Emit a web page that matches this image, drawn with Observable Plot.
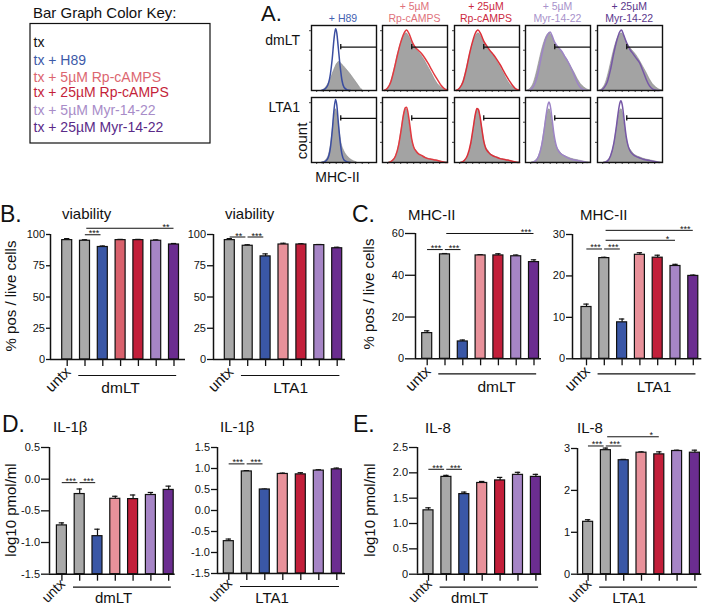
<!DOCTYPE html>
<html>
<head>
<meta charset="utf-8">
<script src="https://cdn.jsdelivr.net/npm/d3@7"></script>
<script src="https://cdn.jsdelivr.net/npm/@observablehq/plot@0.6"></script>
<style>
  html, body { margin: 0; padding: 0; background: #fff; }
  #fig { position: relative; width: 707px; height: 607px; overflow: hidden; background: #fff; }
  #fig svg { position: absolute; overflow: visible; }
</style>
</head>
<body>
<div id="fig"></div>
<script>
// ================= DATA =================
// Colour key
const keyLabels = ["tx", "tx + H89", "tx + 5µM Rp-cAMPS", "tx + 25µM Rp-cAMPS", "tx + 5µM Myr-14-22", "tx + 25µM Myr-14-22"];
const keyColors = ["#111111", "#3d5aa8", "#dc6670", "#c41f3a", "#a88cc8", "#5a2a88"];

// Panel A: flow histograms (MHC-II vs count, normalised 0..1)
const histColumns = [["+ H89"], ["+ 5µM", "Rp-cAMPS"], ["+ 25µM", "Rp-cAMPS"], ["+ 5µM", "Myr-14-22"], ["+ 25µM", "Myr-14-22"]];
const histColumnColors = ["#4461b1", "#e0727b", "#cc2a3f", "#a892cb", "#5b378c"];
const histRows = ["dmLT", "LTA1"];
const histLineColors = ["#3a4da0", "#e23a40", "#dc2f38", "#9d84c6", "#7657a6"];
const histTicksX = [0.08, 0.18, 0.28, 0.38, 0.48, 0.58, 0.68, 0.78, 0.88];
const histTicksY = [0.31, 0.62, 0.92];
const histGates = [0.667, 0.68];

const grayDmH89 = [[0.17,0],[0.22,0.04],[0.27,0.12],[0.32,0.24],[0.36,0.34],[0.4,0.42],[0.43,0.44],[0.46,0.41],[0.5,0.37],[0.55,0.31],[0.6,0.25],[0.65,0.18],[0.7,0.11],[0.75,0.04],[0.79,0]];
const lineDmH89 = [[0.15,0],[0.2,0.02],[0.25,0.08],[0.29,0.25],[0.32,0.5],[0.345,0.78],[0.37,0.95],[0.39,0.88],[0.41,0.68],[0.44,0.38],[0.47,0.15],[0.5,0.05],[0.55,0.01],[0.6,0]];
const grayDm = [[0.03,0],[0.08,0.03],[0.13,0.12],[0.18,0.3],[0.23,0.52],[0.28,0.71],[0.33,0.84],[0.37,0.88],[0.41,0.83],[0.46,0.72],[0.5,0.66],[0.55,0.6],[0.6,0.54],[0.65,0.46],[0.7,0.37],[0.75,0.28],[0.8,0.18],[0.85,0.1],[0.9,0.05],[0.95,0.015],[1,0]];
const lineDmRp5 = [[0.03,0],[0.08,0.04],[0.13,0.14],[0.18,0.33],[0.23,0.55],[0.28,0.74],[0.33,0.88],[0.37,0.93],[0.41,0.87],[0.46,0.74],[0.5,0.67],[0.55,0.62],[0.6,0.57],[0.65,0.5],[0.7,0.42],[0.75,0.33],[0.8,0.24],[0.85,0.16],[0.9,0.08],[0.95,0.03],[1,0.01]];
const lineDmRp25 = [[0.03,0],[0.08,0.04],[0.13,0.13],[0.18,0.32],[0.23,0.56],[0.28,0.76],[0.32,0.88],[0.36,0.93],[0.4,0.88],[0.45,0.76],[0.5,0.68],[0.55,0.61],[0.6,0.55],[0.65,0.48],[0.7,0.4],[0.75,0.31],[0.8,0.22],[0.85,0.14],[0.9,0.07],[0.95,0.02],[1,0.005]];
const lineDmMyr5 = [[0.05,0],[0.1,0.03],[0.15,0.12],[0.2,0.3],[0.25,0.55],[0.3,0.76],[0.34,0.86],[0.38,0.9],[0.41,0.84],[0.45,0.74],[0.5,0.67],[0.56,0.6],[0.6,0.53],[0.65,0.45],[0.69,0.37],[0.74,0.26],[0.78,0.16],[0.82,0.08],[0.86,0.03],[0.9,0.01],[0.95,0]];
const lineDmMyr25 = [[0.05,0],[0.1,0.04],[0.15,0.13],[0.2,0.32],[0.25,0.57],[0.3,0.78],[0.34,0.9],[0.37,0.93],[0.4,0.86],[0.45,0.73],[0.5,0.63],[0.55,0.56],[0.6,0.49],[0.65,0.42],[0.7,0.3],[0.75,0.17],[0.8,0.07],[0.85,0.02],[0.9,0.005],[0.95,0]];

const grayLtH89 = [[0.17,0],[0.22,0.03],[0.27,0.12],[0.31,0.35],[0.34,0.62],[0.37,0.82],[0.4,0.74],[0.43,0.5],[0.46,0.3],[0.5,0.18],[0.55,0.1],[0.6,0.05],[0.65,0.02],[0.7,0]];
const lineLtH89 = [[0.15,0],[0.2,0.01],[0.25,0.06],[0.29,0.22],[0.32,0.5],[0.345,0.8],[0.37,0.97],[0.39,0.88],[0.41,0.65],[0.44,0.33],[0.47,0.12],[0.5,0.04],[0.55,0.01],[0.6,0]];
const grayLt = [[0.1,0],[0.15,0.02],[0.2,0.08],[0.25,0.24],[0.29,0.48],[0.32,0.68],[0.35,0.8],[0.37,0.82],[0.39,0.76],[0.42,0.57],[0.45,0.37],[0.48,0.25],[0.52,0.18],[0.56,0.13],[0.6,0.1],[0.65,0.08],[0.7,0.06],[0.75,0.045],[0.8,0.035],[0.85,0.025],[0.9,0.012],[0.95,0.004],[1,0]];
const lineLtRp5 = [[0.1,0],[0.15,0.03],[0.2,0.1],[0.25,0.28],[0.29,0.52],[0.32,0.72],[0.35,0.84],[0.37,0.85],[0.39,0.78],[0.42,0.58],[0.45,0.36],[0.48,0.24],[0.52,0.17],[0.56,0.13],[0.6,0.11],[0.65,0.08],[0.7,0.06],[0.75,0.05],[0.8,0.04],[0.85,0.03],[0.9,0.015],[0.95,0.005],[1,0]];
const lineLtRp25 = [[0.1,0],[0.15,0.03],[0.2,0.11],[0.25,0.3],[0.29,0.55],[0.32,0.74],[0.345,0.83],[0.365,0.82],[0.39,0.72],[0.42,0.52],[0.45,0.33],[0.48,0.22],[0.52,0.16],[0.56,0.12],[0.6,0.1],[0.65,0.08],[0.7,0.06],[0.75,0.05],[0.8,0.04],[0.85,0.03],[0.9,0.015],[0.95,0.005],[1,0]];
const lineLtMyr5 = [[0.1,0],[0.15,0.02],[0.2,0.09],[0.25,0.27],[0.29,0.52],[0.32,0.75],[0.345,0.89],[0.36,0.93],[0.38,0.88],[0.41,0.66],[0.44,0.42],[0.47,0.27],[0.5,0.19],[0.55,0.13],[0.6,0.1],[0.65,0.07],[0.7,0.05],[0.75,0.04],[0.8,0.03],[0.85,0.02],[0.9,0.01],[0.95,0]];
const lineLtMyr25 = [[0.1,0],[0.15,0.02],[0.2,0.1],[0.25,0.29],[0.29,0.55],[0.32,0.78],[0.345,0.92],[0.36,0.95],[0.38,0.89],[0.41,0.66],[0.44,0.41],[0.47,0.26],[0.5,0.18],[0.55,0.12],[0.6,0.09],[0.65,0.07],[0.7,0.05],[0.75,0.04],[0.8,0.03],[0.85,0.02],[0.9,0.01],[0.95,0]];

const histGrays = [[grayDmH89, grayDm, grayDm, grayDm, grayDm], [grayLtH89, grayLt, grayLt, grayLt, grayLt]];
const histLines = [[lineDmH89, lineDmRp5, lineDmRp25, lineDmMyr5, lineDmMyr25], [lineLtH89, lineLtRp5, lineLtRp25, lineLtMyr5, lineLtMyr25]];

// Bar graphs
const barCategories = ["untx", "tx", "tx + H89", "tx + 5µM Rp-cAMPS", "tx + 25µM Rp-cAMPS", "tx + 5µM Myr-14-22", "tx + 25µM Myr-14-22"];
const barColors  = ["#a9a9a9", "#a9a9a9", "#3a57a6", "#e8919a", "#c21f3a", "#a685c6", "#6b2d90"];
const barColorsB = ["#a9a9a9", "#a9a9a9", "#3a57a6", "#d9616c", "#c21f3a", "#a685c6", "#6b2d90"];

const viabilityDmLT    = [95.5, 95, 90, 95.5, 95.5, 95, 92];
const viabilityDmLTErr = [1.2, 0.8, 0.8, 0.6, 0.6, 0.7, 0.8];
const viabilityLTA1    = [95.5, 91, 82.5, 92, 92, 91.5, 89];
const viabilityLTA1Err = [1.2, 0.8, 2, 1, 0.6, 0.5, 0.8];
const mhcDmLT    = [12.3, 50, 8.3, 49.5, 49.5, 49.1, 46.3];
const mhcDmLTErr = [1.1, 0.4, 0.7, 0.4, 0.8, 0.6, 1.1];
const mhcLTA1    = [12.5, 24.3, 8.8, 25.1, 24.4, 22.4, 20];
const mhcLTA1Err = [0.7, 0.2, 0.8, 0.5, 0.6, 0.4, 0.2];
const il1bDmLT    = [-0.73, -0.235, -0.9, -0.31, -0.315, -0.25, -0.17];
const il1bDmLTErr = [0.04, 0.08, 0.11, 0.04, 0.065, 0.04, 0.06];
const il1bLTA1    = [-0.73, 0.93, 0.5, 0.87, 0.86, 0.95, 0.98];
const il1bLTA1Err = [0.05, 0.02, 0.01, 0.02, 0.04, 0.02, 0.03];
const il8DmLT    = [1.26, 1.92, 1.58, 1.8, 1.85, 1.96, 1.92];
const il8DmLTErr = [0.05, 0.03, 0.04, 0.03, 0.06, 0.05, 0.05];
const il8LTA1    = [1.25, 2.96, 2.72, 2.9, 2.86, 2.94, 2.9];
const il8LTA1Err = [0.05, 0.05, 0.02, 0.02, 0.06, 0.02, 0.06];

const viabilityTicks = [0, 25, 50, 75, 100];
const mhcDmLTTicks = [0, 20, 40, 60];
const mhcLTA1Ticks = [0, 10, 20, 30];
const il1bDmLTTicks = [-1.5, -1, -0.5, 0, 0.5];
const il1bLTA1Ticks = [-1.5, -1, -0.5, 0, 0.5, 1, 1.5];
const il8DmLTTicks = [0, 0.5, 1, 1.5, 2, 2.5];
const il8LTA1Ticks = [0, 1, 2, 3];

// significance brackets (bar index from/to, label, level in data units)
const sigViabilityDmLT = [{from: 1, to: 2, label: "***", y: 99.8}, {from: 1, to: 6, label: "**", y: 105}];
const sigViabilityLTA1 = [{from: 0, to: 1, label: "**", y: 98}, {from: 1, to: 2, label: "***", y: 98}];
const sigMhcDmLT = [{from: 0, to: 1, label: "***", y: 52.3}, {from: 1, to: 2, label: "***", y: 52.3}, {from: 1, to: 6, label: "***", y: 60}];
const sigMhcLTA1 = [{from: 0, to: 1, label: "***", y: 26.5}, {from: 1, to: 2, label: "***", y: 26.5}, {from: 1, to: 5, label: "*", y: 28.6}, {from: 1, to: 6, label: "***", y: 31}];
const sigIl1bDmLT = [{from: 0, to: 1, label: "***", y: -0.055}, {from: 1, to: 2, label: "***", y: -0.055}];
const sigIl1bLTA1 = [{from: 0, to: 1, label: "***", y: 1.11}, {from: 1, to: 2, label: "***", y: 1.11}];
const sigIl8DmLT = [{from: 0, to: 1, label: "***", y: 2.07}, {from: 1, to: 2, label: "***", y: 2.07}];
const sigIl8LTA1 = [{from: 0, to: 1, label: "***", y: 3.06}, {from: 1, to: 2, label: "***", y: 3.06}, {from: 1, to: 4, label: "*", y: 3.28}];

// ================= DRAWING =================
const FONT = "'Liberation Sans', Arial, Helvetica, sans-serif";
const INK = "#111";
const fig = document.getElementById("fig");

// overlay for free text (titles, labels, key)
const overlay = d3.select(fig).append("svg")
  .attr("width", 707).attr("height", 607)
  .style("left", "0px").style("top", "0px")
  .attr("font-family", FONT);

function txt(s, x, y, size, color = INK, anchor = "start", rotate = 0) {
  overlay.append("text")
    .attr("transform", `translate(${x},${y})` + (rotate ? ` rotate(${rotate})` : ""))
    .attr("font-size", size).attr("fill", color).attr("text-anchor", anchor)
    .text(s);
}

// ---- colour key
txt("Bar Graph Color Key:", 33, 18, 15);
overlay.append("rect").attr("x", 30).attr("y", 23.5).attr("width", 180).attr("height", 119.5)
  .attr("fill", "none").attr("stroke", INK).attr("stroke-width", 1.2);
const keyBaselines = [46.5, 65, 81.5, 97, 115, 132];
keyLabels.forEach((s, i) => txt(s, 33.5, keyBaselines[i], 14, keyColors[i]));

// ---- panel letters, titles, y labels
txt("A.", 261, 20.5, 22);
txt("B.", 0, 222, 23);
txt("C.", 352, 222, 23);
txt("D.", 2, 432, 23);
txt("E.", 353, 432, 23);
txt("viability", 62, 219, 15);
txt("viability", 225, 219, 15);
txt("MHC-II", 408, 220, 15);
txt("MHC-II", 580, 220, 15);
txt("IL-1β", 53, 432, 15);
txt("IL-1β", 220, 432, 15);
txt("IL-8", 425, 433, 15);
txt("IL-8", 577, 433, 15);
txt("% pos / live cells", 16, 296, 15, INK, "middle", -90);
txt("% pos / live cells", 374, 294, 15, INK, "middle", -90);
txt("log10 pmol/ml", 16, 510, 15, INK, "middle", -90);
txt("log10 pmol/ml", 375, 510, 15, INK, "middle", -90);

// ---- panel A
const colX = [310.5, 382, 453.5, 525, 596.7];
const rowY = [25, 96.7];
const HS = 65;
histColumns.forEach((lines, c) => {
  const cx = colX[c] + HS / 2;
  if (lines.length === 1) txt(lines[0], cx, 21.5, 10.5, histColumnColors[c], "middle");
  else { txt(lines[0], cx, 10, 10.5, histColumnColors[c], "middle"); txt(lines[1], cx, 21.5, 10.5, histColumnColors[c], "middle"); }
});
txt(histRows[0], 300, 45, 14, INK, "end");
txt(histRows[1], 300, 111.5, 14, INK, "end");
txt("count", 307, 141, 15, INK, "middle", -90);
txt("MHC-II", 337.5, 181.5, 14, INK, "middle");

function histPanel(r, c) {
  const mL = 3, mR = 1, mT = 1, mB = 3;
  const gate = histGates[r];
  const svg = Plot.plot({
    width: HS + mL + mR, height: HS + mT + mB,
    marginLeft: mL, marginRight: mR, marginTop: mT, marginBottom: mB,
    x: {domain: [0, 1], label: null},
    y: {domain: [0, 1], label: null},
    style: `background:transparent;overflow:visible;color:${INK};font:10px ${FONT};`,
    marks: [
      Plot.areaY(histGrays[r][c], {x: d => d[0], y1: 0, y2: d => d[1], fill: "#a3a3a3", stroke: "#8c8c8c", strokeWidth: 0.6, curve: "monotone-x"}),
      Plot.lineY(histLines[r][c], {x: d => d[0], y: d => d[1], stroke: histLineColors[c], strokeWidth: 1.5, curve: "monotone-x"}),
      Plot.ruleY([gate], {x1: 0.45, x2: 1, stroke: INK, strokeWidth: 1.3}),
      Plot.ruleX([0.45], {y1: gate - 0.04, y2: gate + 0.04, stroke: INK, strokeWidth: 1.3}),
      Plot.frame({stroke: INK, strokeWidth: 1.4}),
      Plot.axisX({ticks: histTicksX, tickSize: 2, tickFormat: () => "", label: null, strokeWidth: 0.8}),
      Plot.axisY({ticks: histTicksY, tickSize: 2, tickFormat: () => "", label: null, strokeWidth: 0.8})
    ]
  });
  svg.style.left = (colX[c] - mL) + "px";
  svg.style.top = (rowY[r] - mT) + "px";
  fig.appendChild(svg);
}
for (let r = 0; r < 2; r++) for (let c = 0; c < 5; c++) histPanel(r, c);

// ---- bar charts
function barChart(o) {
  const mL = 42, mR = 8, mT = 34, mB = 34;
  const W = mL + (o.right - o.left) + mR;
  const H = mT + (o.bottom - o.top) + mB;
  const xMin = (o.left - o.bar0) / o.step, xMax = (o.right - o.bar0) / o.step;
  const hw = 5 / o.step;
  const base = o.yDomain[0];
  const rows = o.values.map((v, i) => ({i, cat: barCategories[i], value: v, err: o.errors[i], color: o.colors[i]}));
  const sig = o.sig.map(s => ({...s, long: s.to - s.from > 1, lx: s.to - s.from > 1 ? s.to - 0.45 : (s.from + s.to) / 2}));
  const svg = Plot.plot({
    width: W, height: H, marginLeft: mL, marginRight: mR, marginTop: mT, marginBottom: mB,
    x: {type: "linear", domain: [xMin, xMax], label: null},
    y: {type: "linear", domain: o.yDomain, label: null},
    color: {type: "identity"},
    style: `background:transparent;overflow:visible;color:${INK};font:11px ${FONT};`,
    marks: [
      Plot.ruleX(rows, {x: "i", y1: "value", y2: d => d.value + d.err, stroke: INK, strokeWidth: 1.2}),
      Plot.ruleY(rows, {y: d => d.value + d.err, x1: d => d.i - 0.15, x2: d => d.i + 0.15, stroke: INK, strokeWidth: 1.2}),
      Plot.rect(rows, {x1: d => d.i - hw, x2: d => d.i + hw, y1: base, y2: "value", fill: "color", stroke: INK, strokeWidth: 1.2}),
      Plot.ruleX([xMin], {stroke: INK, strokeWidth: 1.5}),
      Plot.ruleY([base], {stroke: INK, strokeWidth: 1.5}),
      Plot.axisY({ticks: o.yTicks, tickFormat: o.fmt, tickSize: o.tick, tickPadding: 1.5, label: null, strokeWidth: 1.3, fontSize: 11}),
      Plot.axisX({ticks: [0, 1, 2, 3, 4, 5, 6], tickSize: 7, tickFormat: () => "", label: null, strokeWidth: 1.3}),
      Plot.ruleY(sig, {y: "y", x1: d => d.from + (d.long ? 0.1 : 0.02), x2: d => d.to - (d.long ? 0 : 0.1), stroke: INK, strokeWidth: 1}),
      Plot.text(sig, {x: "lx", y: "y", text: "label", lineAnchor: "bottom", dy: 1.5, fontSize: 9, fill: INK}),
      Plot.text([barCategories[0]], {x: 0, y: base, text: d => d, rotate: -45, textAnchor: "end", dx: 1, dy: o.untxDy, fontSize: o.untxSize, fill: INK}),
      Plot.ruleY([{y: base, x1: 0.65, x2: 6.15}], {y: "y", x1: "x1", x2: "x2", dy: o.groupDy, stroke: INK, strokeWidth: 1.2}),
      Plot.text([o.group], {x: o.labelAt, y: base, text: d => d, dy: o.labelDy, lineAnchor: "bottom", textAnchor: "middle", fontSize: o.labelSize, fill: INK})
    ]
  });
  svg.style.left = (o.left - mL) + "px";
  svg.style.top = (o.top - mT) + "px";
  fig.appendChild(svg);
}

const fmtInt = d => String(d);
const fmt1 = d => d.toFixed(1);
const fmtIl8 = d => d === 0 ? "0" : d.toFixed(1);
const topRow = {untxDy: 10, untxSize: 15, labelSize: 15.5};
const bottomRow = {untxDy: 7.5, untxSize: 14, labelSize: 15};

barChart({...topRow, values: viabilityDmLT, errors: viabilityDmLTErr, colors: barColorsB, sig: sigViabilityDmLT, group: "dmLT",
  yDomain: [0, 100], yTicks: viabilityTicks, fmt: fmtInt,
  left: 50, right: 185, top: 234, bottom: 359, bar0: 66.7, step: 17.8, tick: 4, groupDy: 16, labelDy: 33, labelAt: 3.0});
barChart({...topRow, values: viabilityLTA1, errors: viabilityLTA1Err, colors: barColors, sig: sigViabilityLTA1, group: "LTA1",
  yDomain: [0, 100], yTicks: viabilityTicks, fmt: fmtInt,
  left: 213, right: 345, top: 234, bottom: 359, bar0: 229.3, step: 17.9, tick: 6, groupDy: 16, labelDy: 33, labelAt: 3.4});
barChart({...topRow, values: mhcDmLT, errors: mhcDmLTErr, colors: barColors, sig: sigMhcDmLT, group: "dmLT",
  yDomain: [0, 60], yTicks: mhcDmLTTicks, fmt: fmtInt,
  left: 415, right: 541, top: 233, bottom: 358.3, bar0: 426.7, step: 17.8, tick: 10, groupDy: 15, labelDy: 33.4, labelAt: 3.9});
barChart({...topRow, values: mhcLTA1, errors: mhcLTA1Err, colors: barColors, sig: sigMhcLTA1, group: "LTA1",
  yDomain: [0, 30], yTicks: mhcLTA1Ticks, fmt: fmtInt,
  left: 571.7, right: 701, top: 234, bottom: 358.3, bar0: 585.7, step: 17.8, tick: 6, groupDy: 15, labelDy: 33.4, labelAt: 3.8});
barChart({...bottomRow, values: il1bDmLT, errors: il1bDmLTErr, colors: barColors, sig: sigIl1bDmLT, group: "dmLT",
  yDomain: [-1.5, 0.5], yTicks: il1bDmLTTicks, fmt: fmt1,
  left: 49.3, right: 175, top: 447.3, bottom: 574, bar0: 61.7, step: 17.8, tick: 8, groupDy: 13, labelDy: 29, labelAt: 2.9});
barChart({...bottomRow, values: il1bLTA1, errors: il1bLTA1Err, colors: barColors, sig: sigIl1bLTA1, group: "LTA1",
  yDomain: [-1.5, 1.5], yTicks: il1bLTA1Ticks, fmt: fmt1,
  left: 217, right: 345, top: 447.3, bottom: 573.3, bar0: 228.3, step: 18, tick: 6, groupDy: 13, labelDy: 29.5, labelAt: 2.4});
barChart({...bottomRow, values: il8DmLT, errors: il8DmLTErr, colors: barColors, sig: sigIl8DmLT, group: "dmLT",
  yDomain: [0, 2.5], yTicks: il8DmLTTicks, fmt: fmtIl8,
  left: 416.7, right: 541, top: 447.3, bottom: 574, bar0: 427.7, step: 17.9, tick: 8, groupDy: 13, labelDy: 29, labelAt: 2.3});
barChart({...bottomRow, values: il8LTA1, errors: il8LTA1Err, colors: barColors, sig: sigIl8LTA1, group: "LTA1",
  yDomain: [0, 3], yTicks: il8LTA1Ticks, fmt: fmtInt,
  left: 576.7, right: 701, top: 448.3, bottom: 574, bar0: 587.3, step: 17.8, tick: 6, groupDy: 13, labelDy: 29, labelAt: 2.3});
</script>
</body>
</html>
